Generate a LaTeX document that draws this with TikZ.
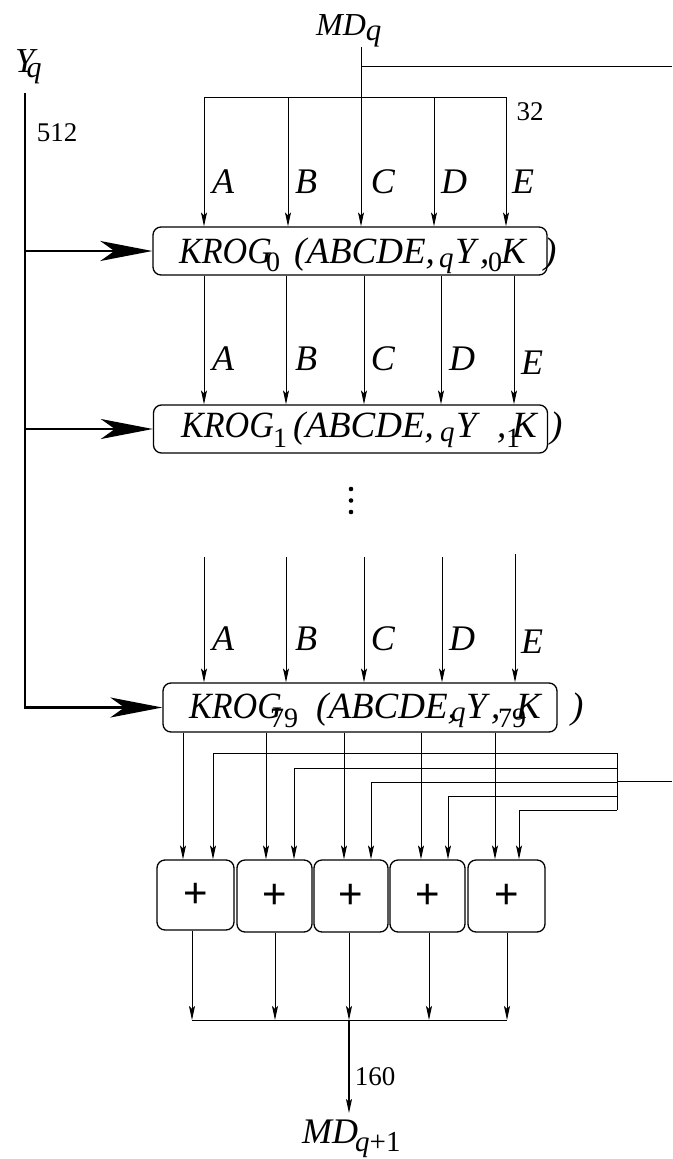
\documentclass[tikz,border=0pt]{standalone}
\usepackage{fontspec}
\usepackage{graphicx}
\setmainfont{Liberation Serif}
\newfontfamily\sansf{Liberation Sans}
\usetikzlibrary{arrows.meta}
\newcommand\narrowtxt[1]{\scalebox{0.92}[1]{#1}}
\begin{document}
\begin{tikzpicture}[x=1pt,y=-1pt,
  thinl/.style={line width=1pt},
  sarrow/.style={line width=1pt,-{Stealth[length=14pt,width=6pt,inset=3pt]}},
  barrow/.style={line width=2.5pt,-{Stealth[length=52pt,width=20pt,inset=14pt]}},
  kbox/.style={draw,line width=1.3pt,rounded corners=8pt,minimum width=394pt,minimum height=48pt,inner sep=0pt},
  pbox/.style={draw,line width=1.3pt,rounded corners=8pt,minimum width=75pt,minimum height=72pt,inner sep=0pt,font=\sansf\fontsize{42}{42}\selectfont},
  bt/.style={anchor=base west,inner sep=0pt,font=\fontsize{37}{37}\selectfont\itshape},
  st/.style={anchor=base west,inner sep=0pt,font=\fontsize{28}{28}\selectfont},
  sq/.style={anchor=base west,inner sep=0pt,font=\fontsize{29}{29}\selectfont\itshape},
  lab/.style={inner sep=0pt,font=\fontsize{36}{36}\selectfont\itshape},
  num/.style={inner sep=0pt,font=\fontsize{27}{27}\selectfont},
]
\useasboundingbox (0,0) rectangle (672,1159);

% ---------- labels ----------
\node[anchor=base west,inner sep=0pt,font=\fontsize{32}{32}\selectfont\itshape] (mdq) at (316,35)
  {MD\raisebox{-5pt}{\fontsize{31}{31}\selectfont q}};
\node[anchor=base west,inner sep=0pt,font=\fontsize{35}{35}\selectfont\itshape] (yq) at (15,72)
  {Y\kern-8pt\raisebox{-5pt}{\fontsize{30}{30}\selectfont q}};
\node[num] (n512) at (57,133) {512};
\node[num] (n32) at (530,112) {32};
\node[num] (n160) at (375,1077) {160};
\node[anchor=base west,inner sep=0pt,font=\fontsize{36}{36}\selectfont\itshape] (md1) at (302,1143) {MD};
\node[anchor=base west,inner sep=0pt,font=\fontsize{29}{29}\selectfont] (md1s) at (355,1151) {\itshape q\upshape+1};

% ---------- round boxes ----------
\node[kbox] (b0) at (350,251) {};
\node[kbox] (b1) at (350.5,429) {};
\node[kbox,minimum height=49pt] (b79) at (360,707.5) {};

% box 0 text
\node[bt] (k0a) at (179,263) {\narrowtxt{KROG}};
\node[st] (k0b) at (266,271) {0};
\node[bt] (k0c) at (294,263) {(ABCDE,};
\node[sq] (k0d) at (439,267) {q};
\node[bt] (k0e) at (455,263) {Y};
\node[bt] (k0f) at (480,263) {,};
\node[st] (k0g) at (488,271) {0};
\node[bt] (k0h) at (501,263) {K};
\node[bt] (k0i) at (544,263) {)};

% box 1 text
\node[bt] (k1a) at (181,437) {\narrowtxt{KROG}};
\node[st] (k1b) at (273,447) {1};
\node[bt] (k1c) at (293,437) {(ABCDE,};
\node[sq] (k1d) at (440,441) {q};
\node[bt] (k1e) at (456,437) {Y};
\node[bt] (k1f) at (497,437) {,};
\node[st] (k1g) at (506,447) {1};
\node[bt] (k1h) at (512,437) {K};
\node[bt] (k1i) at (550,437) {)};

% box 79 text
\node[bt] (k2a) at (189,718) {\narrowtxt{KROG}};
\node[st] (k2b) at (270,727) {79};
\node[bt] (k2c) at (316,718) {(ABCDE,};
\node[sq] (k2d) at (451,721) {q};
\node[bt] (k2e) at (466,718) {Y};
\node[bt] (k2f) at (491,718) {,};
\node[st] (k2g) at (498,727) {79};
\node[bt] (k2h) at (516,718) {K};
\node[bt] (k2i) at (571,718) {)};

% A-E labels
\foreach \r/\y/\ye/\dx/\ex in {0/182/182/454/523, 1/359/363/462/532, 2/639/642/462/532}{
  \node[lab] (l\r a) at (223,\y) {A};
  \node[lab] (l\r b) at (306,\y) {B};
  \node[lab] (l\r c) at (383,\y) {C};
  \node[lab] (l\r d) at (\dx,\y) {D};
  \node[lab] (l\r e) at (\ex,\ye) {E};
}

% ---------- Y_q line and big arrows ----------
\coordinate (ytop) at (25,93);
\draw[barrow] (ytop) -- (ytop |- b79.west) -- (b79.west);
\draw[barrow] (ytop |- b0.west) -- (b0.west);
\draw[barrow] (ytop |- b1.west) -- (b1.west);

% ---------- MD_q input ----------
\coordinate (mdc) at (361,47);
\coordinate (mdr) at (672,66);
\draw[thinl] (mdc |- mdr) -- (mdr);
\draw[sarrow] (mdc) -- (mdc |- b0.north);
\coordinate (busl) at (204,97);
\coordinate (busr) at (506,97);
\draw[thinl] (busl) -- (busr);
\coordinate (tb) at (288,97);
\coordinate (td) at (434,97);
\draw[sarrow] (busl) -- (busl |- b0.north);
\draw[sarrow] (tb) -- (tb |- b0.north);
\draw[sarrow] (td) -- (td |- b0.north);
\draw[sarrow] (busr) -- (busr |- b0.north);

% ---------- box 0 -> box 1 ----------
\foreach \x in {204,286,364,441,514}{
  \coordinate (m\x) at (\x,300);
  \draw[sarrow] (m\x |- b0.south) -- (m\x |- b1.north);
}

% ---------- dots ----------
\foreach \y in {489,500.5,512}{ \fill (351,\y) circle (2.3pt); }

% ---------- dots -> box 79 ----------
\foreach \x/\s in {204/557,286/557,364/557,442/557,515/554}{
  \coordinate (u\x) at (\x,\s);
  \draw[sarrow] (u\x) -- (u\x |- b79.north);
}

% ---------- plus boxes ----------
\node[pbox,minimum width=77pt,minimum height=70pt] (p1) at (195.5,895) {+};
\node[pbox] (p2) at (274.5,896) {+};
\node[pbox,minimum width=74pt] (p3) at (351,896) {+};
\node[pbox] (p4) at (427.5,896) {+};
\node[pbox,minimum width=77pt] (p5) at (506.5,896) {+};

% box 79 -> plus boxes
\foreach \x/\p in {183/p1,266/p2,344/p3,421/p4,495/p5}{
  \coordinate (v\x) at (\x,800);
  \draw[sarrow] (v\x |- b79.south) -- (v\x |- \p.north);
}

% feedback lines
\foreach \i/\y/\x/\p in {1/753/213/p1,2/768/294/p2,3/782/371/p3,4/796/448/p4,5/810/519/p5}{
  \coordinate (f\i) at (617,\y);
  \coordinate (g\i) at (\x,\y);
  \draw[sarrow] (f\i) -- (g\i) -- (g\i |- \p.north);
}
\draw[thinl] (f1) -- (f5);
\coordinate (fin) at (672,781);
\draw[thinl] (fin) -- (fin -| f1);

% plus boxes -> output bus
\foreach \i/\x in {1/192,2/275,3/349,4/429,5/507}{
  \coordinate (o\i) at (\x,1020);
  \draw[sarrow] (o\i |- p\i.south) -- (o\i);
}
\draw[thinl] (o1) -- (o5);
\coordinate (oend) at (349,1113);
\draw[sarrow,line width=1.3pt] (o3) -- (oend);
\end{tikzpicture}
\end{document}
